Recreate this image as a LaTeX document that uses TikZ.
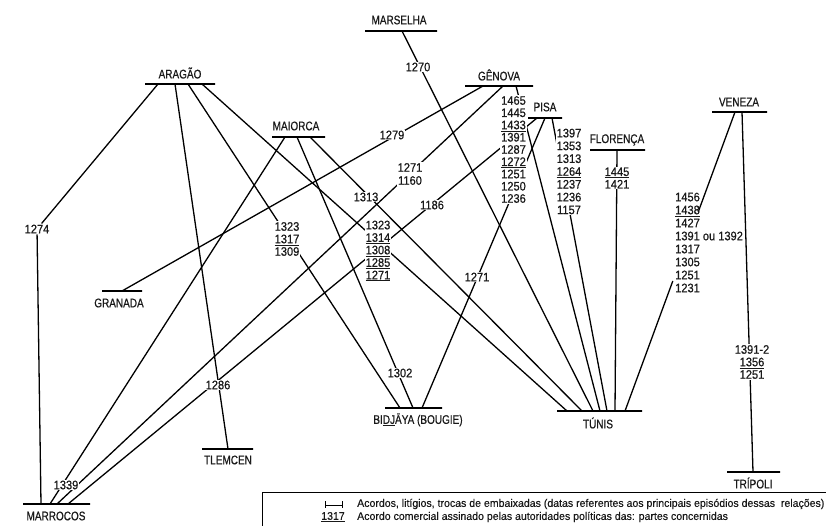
\documentclass[tikz,border=0pt]{standalone}
\usepackage{fontspec}
\setmainfont{Liberation Sans}
\newfontfamily\cityfont{Liberation Sans}[FakeStretch=0.8,FakeBold=0.6]
\newfontfamily\numfont{Liberation Sans}[FakeStretch=0.9,FakeBold=0.6]
\newfontfamily\legfont{Liberation Sans}[FakeStretch=0.96,FakeBold=0.4]
\newcommand\un[1]{\underline{#1}}
\usetikzlibrary{calc}
\begin{document}
\begin{tikzpicture}[x=1pt,y=-1pt,
  city/.style={font=\cityfont\fontsize{12.5}{14}\selectfont, inner sep=0pt, text=black!90},
  bar/.style={draw, line width=1.5pt, minimum height=0pt, inner sep=0pt, outer sep=0pt},
  conn/.style={line width=1.3pt},
  lab/.style={fill=white, inner sep=1pt, text=black!90, font=\numfont\fontsize{12.3}{12.5}\selectfont, align=center},
  leg/.style={inner sep=0pt, text=black!90, font=\legfont\fontsize{11}{13}\selectfont},
]
\useasboundingbox (0,0) rectangle (826,526);

% city bars
\node[bar, minimum width=72pt] (marB) at (401,31) {};
\node[bar, minimum width=68pt] (genB) at (499,86) {};
\node[bar, minimum width=34pt] (pisB) at (545,118) {};
\node[bar, minimum width=55pt] (floB) at (617.5,150) {};
\node[bar, minimum width=55pt] (venB) at (739.5,112) {};
\node[bar, minimum width=70pt] (araB) at (180,84) {};
\node[bar, minimum width=53pt] (maiB) at (298.5,137) {};
\node[bar, minimum width=40pt] (graB) at (122,291) {};
\node[bar, minimum width=51pt] (tleB) at (227.5,449) {};
\node[bar, minimum width=67pt] (marrB) at (56.5,504) {};
\node[bar, minimum width=57pt] (bidB) at (413.5,408) {};
\node[bar, minimum width=85pt] (tunB) at (599.5,411) {};
\node[bar, minimum width=53pt] (triB) at (753.5,472) {};

% city names
\node[city] (tMar) at (399,20) {MARSELHA};
\node[city] (tGen) at (499,75) {GÊNOVA};
\node[city] (tPis) at (545,107) {PISA};
\node[city] (tFlo) at (617,140) {FLORENÇA};
\node[city] (tVen) at (739,102) {VENEZA};
\node[city] (tAra) at (180,73) {ARAGÃO};
\node[city] (tMai) at (296,126) {MAIORCA};
\node[city] (tGra) at (119,303) {GRANADA};
\node[city] (tTle) at (228,460) {TLEMCEN};
\node[city] (tMarr) at (56,516) {MARROCOS};
\node[city] (tBid) at (418,420) {BI\underline{DJ}ĀYA (BOUGIE)};
\node[city] (tTun) at (598,423) {TÚNIS};
\node[city] (tTri) at (753,483) {TRÍPOLI};

% label used as a bend point
\node[lab] (l1274) at (37,229) {1274};

% connectors
\draw[conn] ([xshift=13pt]araB.west) -- (l1274);
\draw[conn] (l1274) -- ([xshift=18pt]marrB.west);
\draw[conn] ([xshift=30pt]araB.west) -- ([xshift=26pt]tleB.west);
\draw[conn] ([xshift=43pt]araB.west) -- ([xshift=15pt]bidB.west);
\draw[conn] ([xshift=57pt]araB.west) -- ([xshift=10pt]tunB.west);

\draw[conn] ([xshift=13pt]maiB.west) -- ([xshift=27pt]marrB.west);
\draw[conn] ([xshift=25pt]maiB.west) -- ([xshift=28pt]bidB.west);
\draw[conn] ([xshift=38pt]maiB.west) -- ([xshift=25pt]tunB.west);

\draw[conn] ([xshift=37pt]marB.west) -- ([xshift=36pt]tunB.west);

\draw[conn] ([xshift=18pt]genB.west) -- ([xshift=20pt]graB.west);
\draw[conn] ([xshift=38pt]genB.west) -- ([xshift=34pt]marrB.west);
\draw[conn] ([xshift=51pt]genB.west) -- ([xshift=43pt]tunB.west);

\draw[conn] ([xshift=9pt]pisB.west) -- ([xshift=45pt]marrB.west);
\draw[conn] ([xshift=17pt]pisB.west) -- ([xshift=37pt]bidB.west);
\draw[conn] ([xshift=24pt]pisB.west) -- ([xshift=50pt]tunB.west);

\draw[conn] ([xshift=27pt]floB.west) -- ([xshift=58pt]tunB.west);

\coordinate (vA) at (698.2,212);
\coordinate (vB) at (672.8,281);
\draw[conn] ([xshift=23pt]venB.west) -- (vA);
\draw[conn] (vB) -- ([xshift=68pt]tunB.west);
\draw[conn] ([xshift=30pt]venB.west) -- ([xshift=26pt]triB.west);

% date labels
\node[lab] (l1270) at (418,67) {1270};
\node[lab] (l1279) at (392,135) {1279};
\node[lab, font=\numfont\fontsize{12.3}{13}\selectfont] (l1160) at (410,174) {1271\\1160};
\node[lab] (l1313) at (366,197) {1313};
\node[lab] (l1186) at (432,205) {1186};
\node[lab] (sAB) at (287,239) {1323\\\un{1317}\\1309};
\node[lab] (sAT) at (378,251) {1323\\\un{1314}\\\un{1308}\\\un{1285}\\\un{1271}};
\node[lab] (l1271) at (477,277) {1271};
\node[lab] (l1302) at (400,373) {1302};
\node[lab] (l1286) at (218,385) {1286};
\node[lab] (l1339) at (66,485) {1339};
\node[lab, font=\numfont\fontsize{12.3}{12.25}\selectfont] (sGen) at (513.5,149.5)
  {1465\\1445\\\un{1433}\\1391\\1287\\\un{1272}\\1251\\1250\\1236};
\node[lab, font=\numfont\fontsize{12.3}{12.8}\selectfont] (sPis) at (569,171.5)
  {1397\\1353\\1313\\\un{1264}\\1237\\1236\\1157};
\node[lab] (sFlo) at (617,178) {\un{1445}\\1421};
\node[lab, fill=none, align=left, anchor=west, font=\numfont\fontsize{12.3}{13}\selectfont] (sVen) at (674,242.5)
  {1456\\\un{1438}\\1427\\1391 ou 1392\\1317\\1305\\1251\\1231};
\node[lab] (sTri) at (752,362) {1391-2\\\un{1356}\\1251};

% legend
\draw[line width=1pt] (262,545) -- (262,492) -- (850,492);
\draw[line width=1pt] (325,505) -- (342,505);
\draw[line width=1pt] (325,501) -- (325,508);
\draw[line width=1pt] (342,501) -- (342,508);
\node[leg, anchor=west] (lg1) at (357,504) {Acordos, litígios, trocas de embaixadas (datas referentes aos principais episódios dessas\ \ relações)};
\node[leg] (lg3) at (333,517) {\underline{1317}};
\node[leg, anchor=west] (lg2) at (357,517) {Acordo comercial assinado pelas autoridades políticas das: partes concernidas};
\end{tikzpicture}
\end{document}
